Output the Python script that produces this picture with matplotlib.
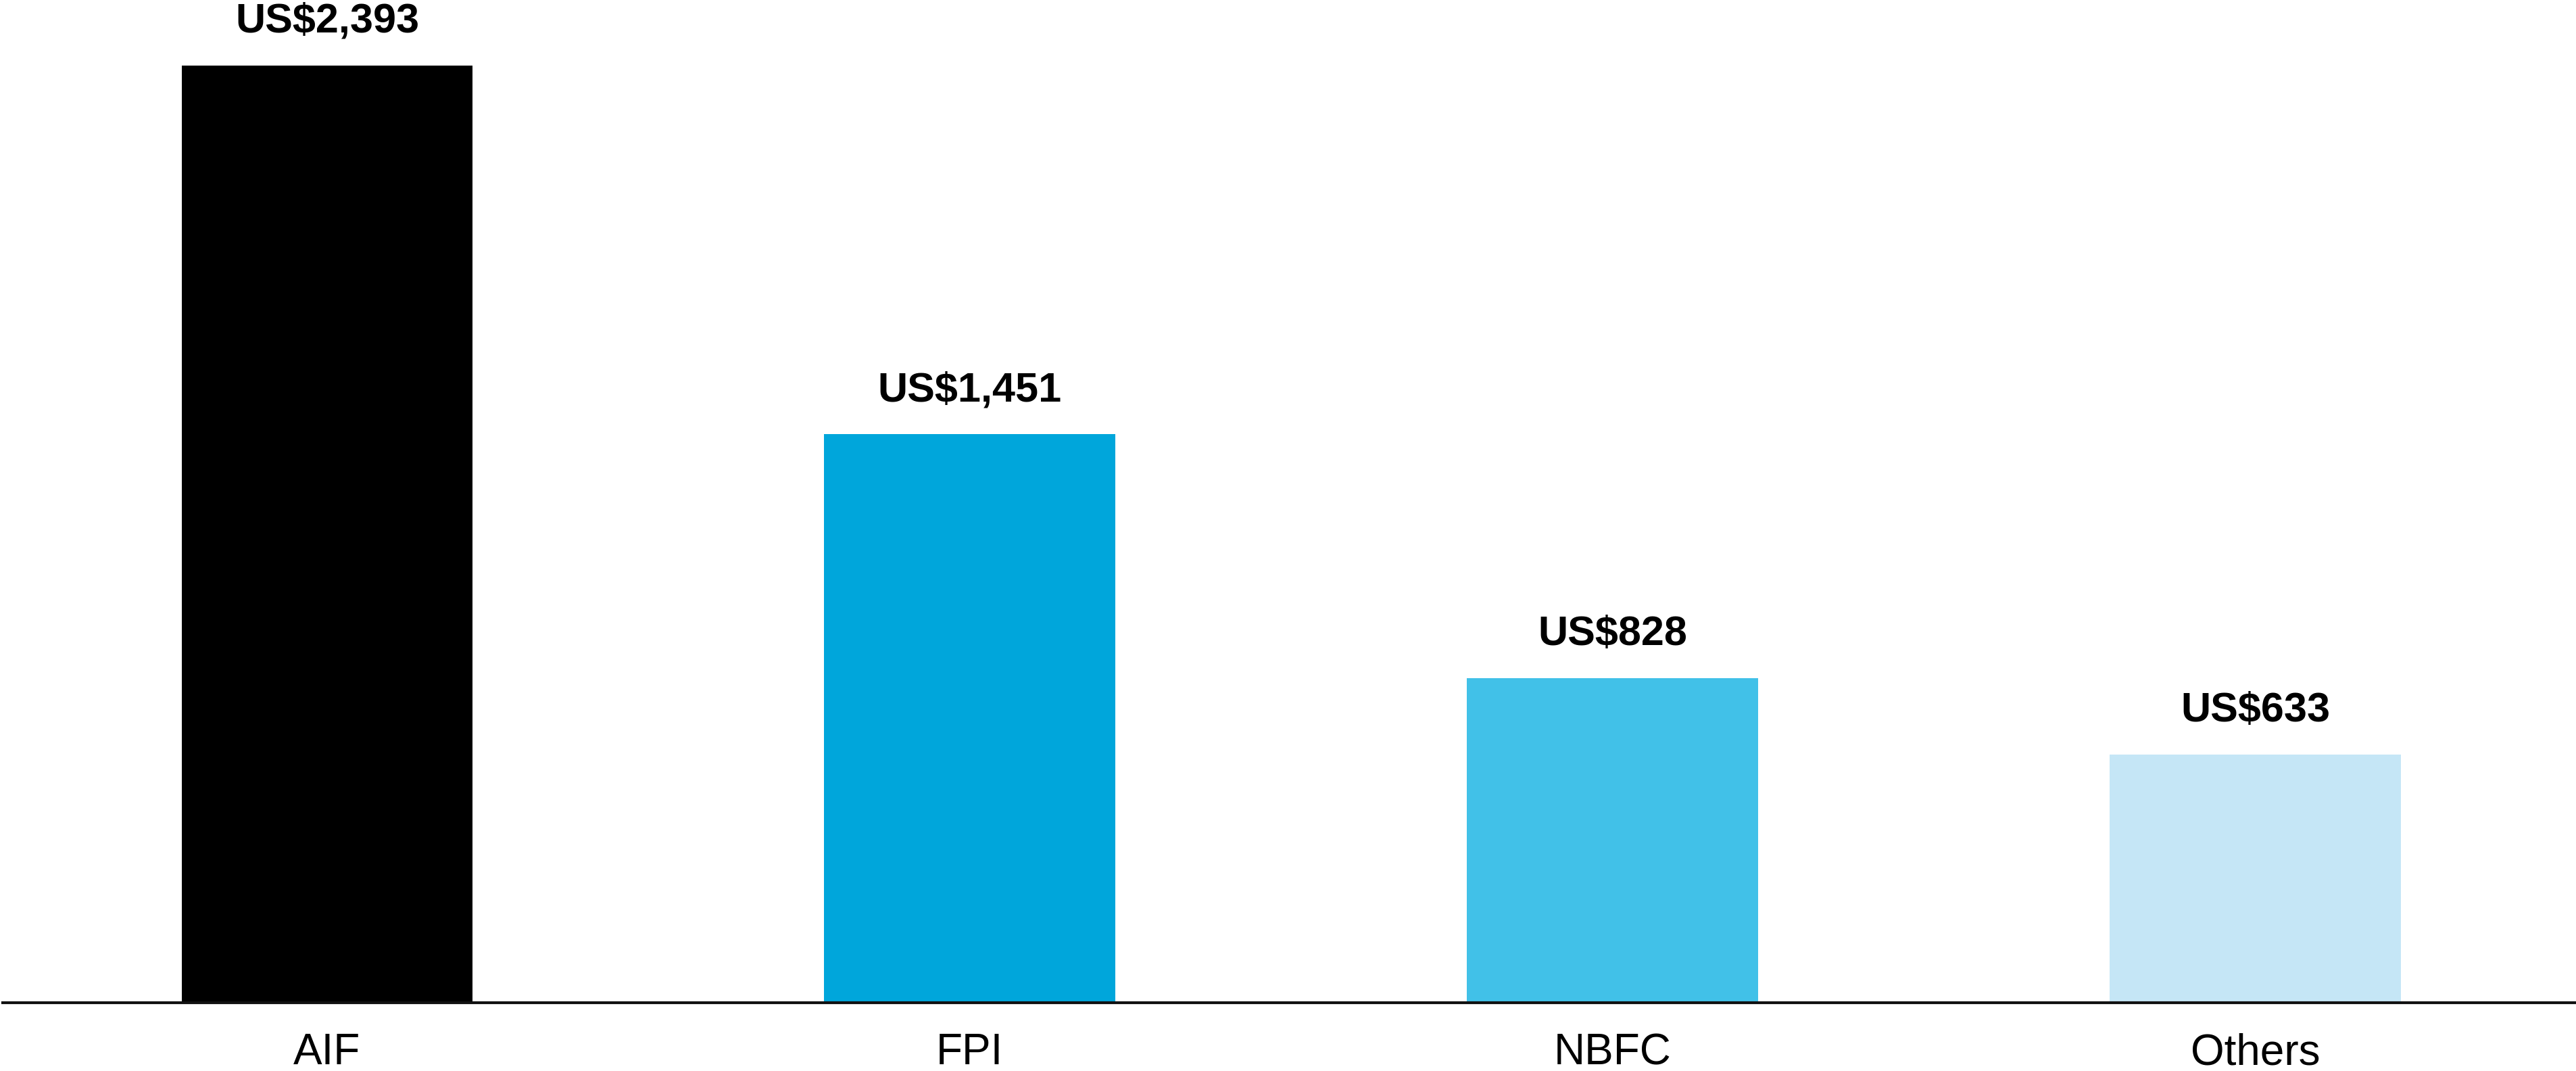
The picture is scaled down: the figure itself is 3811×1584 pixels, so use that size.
import matplotlib.pyplot as plt

# data
categories = ["AIF", "FPI", "NBFC", "Others"]
values = [2393, 1451, 828, 633]
labels = ["US$2,393", "US$1,451", "US$828", "US$633"]
colors = ["#000000", "#00A6DB", "#41C1E8", "#C5E6F6"]

plt.rcParams['font.family'] = ['Liberation Sans', 'DejaVu Sans']

fig = plt.figure(figsize=(38.12, 15.84), dpi=100)
ax = fig.add_axes([0.001, 1 - 1483 / 1584, 0.999, 1483 / 1584])

x = range(len(categories))
bars = ax.bar(x, values, width=0.453, color=colors)

# value labels above bars
for b, lab in zip(bars, labels):
    ax.annotate(lab, (b.get_x() + b.get_width() / 2, b.get_height()),
                xytext=(0, 26), textcoords="offset points",
                ha="center", va="bottom", fontsize=44, fontweight="bold")

ax.set_xlim(-0.505, 3.5)
ax.set_ylim(0, 2560)
ax.set_xticks(list(x))
ax.set_xticklabels(categories, fontsize=46)
ax.tick_params(axis="x", length=0, pad=32)
ax.set_yticks([])
for s in ["top", "right", "left"]:
    ax.spines[s].set_visible(False)
ax.spines["bottom"].set_linewidth(3)
ax.spines["bottom"].set_color("#111111")

fig.savefig("out.png", dpi=100)
plt.close(fig)
